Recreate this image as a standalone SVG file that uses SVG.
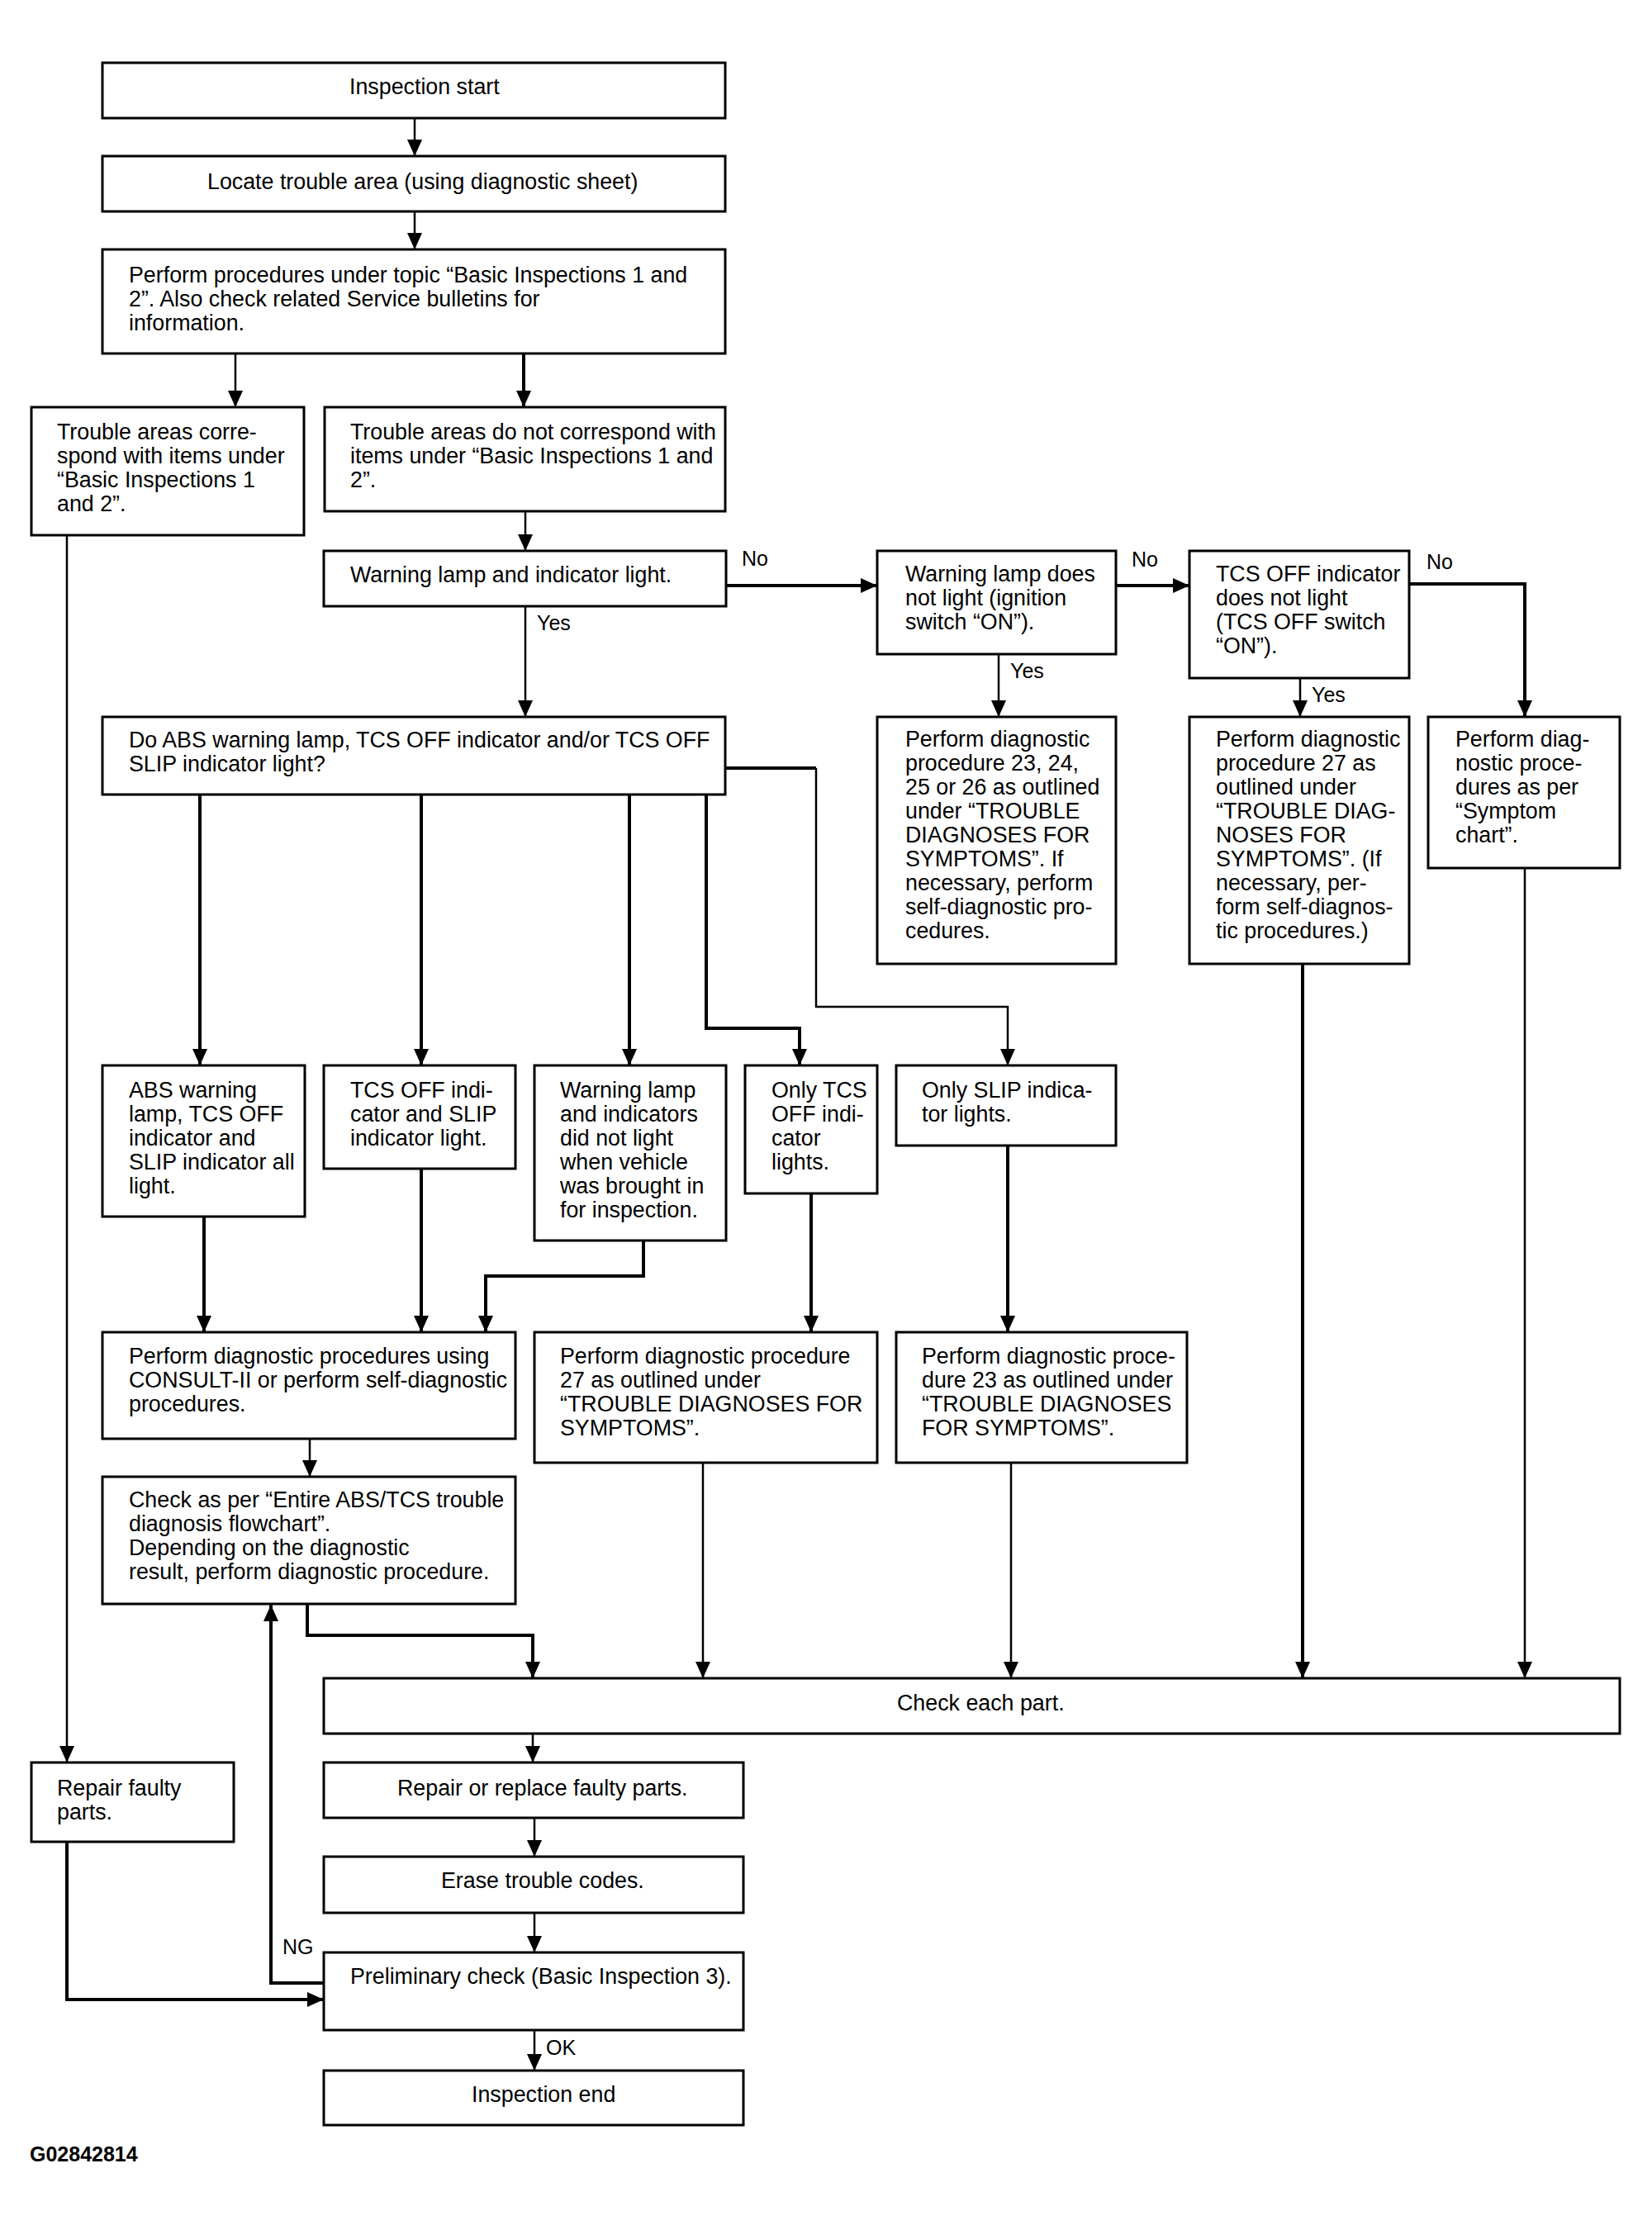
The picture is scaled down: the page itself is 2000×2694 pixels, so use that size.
<svg xmlns="http://www.w3.org/2000/svg" width="2000" height="2694" viewBox="0 0 2000 2694">
<style>
.bg{fill:#fff}
.box{fill:#fff;stroke:#000;stroke-width:3}
.t{font-family:"Liberation Sans",Arial,Helvetica,sans-serif;font-size:26.8px;fill:#000}
.l{font-family:"Liberation Sans",Arial,Helvetica,sans-serif;font-size:25px;fill:#000}
.c{fill:none;stroke:#000;stroke-width:2.5;marker-end:url(#ah)}
.k{stroke-width:4}
.n{marker-end:none}
</style>
<defs>
<marker id="ah" markerUnits="userSpaceOnUse" markerWidth="20" markerHeight="20" viewBox="0 0 20 20" refX="20" refY="10" orient="auto">
<path d="M0,1 L20,10 L0,19 Z" fill="#000"/>
</marker>
</defs>
<rect class="bg" x="0" y="0" width="2000" height="2694"/>

<g id="connectors">
<path class="c" d="M502,143 V189"/>
<path class="c" d="M502,256 V302"/>
<path class="c" d="M285,428 V493"/>
<path class="c k" d="M634,428 V493"/>
<path class="c" d="M81,648 V2134"/>
<path class="c" d="M636,619 V667"/>
<path class="c k" d="M879,709 H1062"/>
<path class="c" d="M636,734 V868"/>
<path class="c k" d="M1351,709 H1440"/>
<path class="c" d="M1209,792 V868"/>
<path class="c k" d="M1706,707 H1846 V868"/>
<path class="c" d="M1574,821 V868"/>
<path class="c k" d="M242,962 V1290"/>
<path class="c k" d="M510,962 V1290"/>
<path class="c k" d="M762,962 V1290"/>
<path class="c k" d="M855,962 V1245 H968 V1290"/>
<path class="c k n" d="M878,930 H988"/>
<path class="c" d="M988,930 V1219 H1220 V1290"/>
<path class="c k" d="M247,1473 V1613"/>
<path class="c k" d="M510,1415 V1613"/>
<path class="c k" d="M779,1502 V1545 H588 V1613"/>
<path class="c k" d="M982,1445 V1613"/>
<path class="c k" d="M1220,1387 V1613"/>
<path class="c" d="M375,1742 V1788"/>
<path class="c k" d="M372,1942 V1980 H645 V2032"/>
<path class="c" d="M851,1771 V2032"/>
<path class="c" d="M1224,1771 V2032"/>
<path class="c k" d="M1577,1167 V2032"/>
<path class="c" d="M1846,1051 V2032"/>
<path class="c" d="M645,2099 V2134"/>
<path class="c" d="M647,2201 V2248"/>
<path class="c" d="M647,2316 V2364"/>
<path class="c" d="M647,2458 V2507"/>
<path class="c k" d="M392,2401 H328 V1943"/>
<path class="c k" d="M81,2230 V2421 H392"/>
<text class="l" x="898" y="685">No</text>
<text class="l" x="650" y="763">Yes</text>
<text class="l" x="1370" y="686">No</text>
<text class="l" x="1223" y="821">Yes</text>
<text class="l" x="1727" y="689">No</text>
<text class="l" x="1588" y="850">Yes</text>
<text class="l" x="342" y="2366">NG</text>
<text class="l" x="661" y="2488">OK</text>
</g>

<g id="n1"><rect class="box" x="124" y="76" width="754" height="67"/>
<text class="t" x="423" y="114">Inspection start</text></g>
<g id="n2"><rect class="box" x="124" y="189" width="754" height="67"/>
<text class="t" x="251" y="229">Locate trouble area (using diagnostic sheet)</text></g>
<g id="n3"><rect class="box" x="124" y="302" width="754" height="126"/>
<text class="t"><tspan x="156" y="342">Perform procedures under topic “Basic Inspections 1 and</tspan><tspan x="156" y="371">2”. Also check related Service bulletins for</tspan><tspan x="156" y="400">information.</tspan></text></g>
<g id="n4"><rect class="box" x="38" y="493" width="330" height="155"/>
<text class="t"><tspan x="69" y="532">Trouble areas corre-</tspan><tspan x="69" y="561">spond with items under</tspan><tspan x="69" y="590">“Basic Inspections 1</tspan><tspan x="69" y="619">and 2”.</tspan></text></g>
<g id="n5"><rect class="box" x="393" y="493" width="485" height="126"/>
<text class="t"><tspan x="424" y="532">Trouble areas do not correspond with</tspan><tspan x="424" y="561">items under “Basic Inspections 1 and</tspan><tspan x="424" y="590">2”.</tspan></text></g>
<g id="n6"><rect class="box" x="392" y="667" width="487" height="67"/>
<text class="t" x="424" y="705">Warning lamp and indicator light.</text></g>
<g id="n7"><rect class="box" x="1062" y="667" width="289" height="125"/>
<text class="t"><tspan x="1096" y="704">Warning lamp does</tspan><tspan x="1096" y="733">not light (ignition</tspan><tspan x="1096" y="762">switch “ON”).</tspan></text></g>
<g id="n8"><rect class="box" x="1440" y="667" width="266" height="154"/>
<text class="t"><tspan x="1472" y="704">TCS OFF indicator</tspan><tspan x="1472" y="733">does not light</tspan><tspan x="1472" y="762">(TCS OFF switch</tspan><tspan x="1472" y="791">“ON”).</tspan></text></g>
<g id="n9"><rect class="box" x="124" y="868" width="754" height="94"/>
<text class="t"><tspan x="156" y="905">Do ABS warning lamp, TCS OFF indicator and/or TCS OFF</tspan><tspan x="156" y="934">SLIP indicator light?</tspan></text></g>
<g id="n10"><rect class="box" x="1062" y="868" width="289" height="299"/>
<text class="t"><tspan x="1096" y="904">Perform diagnostic</tspan><tspan x="1096" y="933">procedure 23, 24,</tspan><tspan x="1096" y="962">25 or 26 as outlined</tspan><tspan x="1096" y="991">under “TROUBLE</tspan><tspan x="1096" y="1020">DIAGNOSES FOR</tspan><tspan x="1096" y="1049">SYMPTOMS”. If</tspan><tspan x="1096" y="1078">necessary, perform</tspan><tspan x="1096" y="1107">self-diagnostic pro-</tspan><tspan x="1096" y="1136">cedures.</tspan></text></g>
<g id="n11"><rect class="box" x="1440" y="868" width="266" height="299"/>
<text class="t"><tspan x="1472" y="904">Perform diagnostic</tspan><tspan x="1472" y="933">procedure 27 as</tspan><tspan x="1472" y="962">outlined under</tspan><tspan x="1472" y="991">“TROUBLE DIAG-</tspan><tspan x="1472" y="1020">NOSES FOR</tspan><tspan x="1472" y="1049">SYMPTOMS”. (If</tspan><tspan x="1472" y="1078">necessary, per-</tspan><tspan x="1472" y="1107">form self-diagnos-</tspan><tspan x="1472" y="1136">tic procedures.)</tspan></text></g>
<g id="n12"><rect class="box" x="1729" y="868" width="232" height="183"/>
<text class="t"><tspan x="1762" y="904">Perform diag-</tspan><tspan x="1762" y="933">nostic proce-</tspan><tspan x="1762" y="962">dures as per</tspan><tspan x="1762" y="991">“Symptom</tspan><tspan x="1762" y="1020">chart”.</tspan></text></g>
<g id="n13"><rect class="box" x="124" y="1290" width="245" height="183"/>
<text class="t"><tspan x="156" y="1329">ABS warning</tspan><tspan x="156" y="1358">lamp, TCS OFF</tspan><tspan x="156" y="1387">indicator and</tspan><tspan x="156" y="1416">SLIP indicator all</tspan><tspan x="156" y="1445">light.</tspan></text></g>
<g id="n14"><rect class="box" x="392" y="1290" width="232" height="125"/>
<text class="t"><tspan x="424" y="1329">TCS OFF indi-</tspan><tspan x="424" y="1358">cator and SLIP</tspan><tspan x="424" y="1387">indicator light.</tspan></text></g>
<g id="n15"><rect class="box" x="647" y="1290" width="232" height="212"/>
<text class="t"><tspan x="678" y="1329">Warning lamp</tspan><tspan x="678" y="1358">and indicators</tspan><tspan x="678" y="1387">did not light</tspan><tspan x="678" y="1416">when vehicle</tspan><tspan x="678" y="1445">was brought in</tspan><tspan x="678" y="1474">for inspection.</tspan></text></g>
<g id="n16"><rect class="box" x="902" y="1290" width="160" height="155"/>
<text class="t"><tspan x="934" y="1329">Only TCS</tspan><tspan x="934" y="1358">OFF indi-</tspan><tspan x="934" y="1387">cator</tspan><tspan x="934" y="1416">lights.</tspan></text></g>
<g id="n17"><rect class="box" x="1085" y="1290" width="266" height="97"/>
<text class="t"><tspan x="1116" y="1329">Only SLIP indica-</tspan><tspan x="1116" y="1358">tor lights.</tspan></text></g>
<g id="n18"><rect class="box" x="124" y="1613" width="500" height="129"/>
<text class="t"><tspan x="156" y="1651">Perform diagnostic procedures using</tspan><tspan x="156" y="1680">CONSULT-II or perform self-diagnostic</tspan><tspan x="156" y="1709">procedures.</tspan></text></g>
<g id="n19"><rect class="box" x="647" y="1613" width="415" height="158"/>
<text class="t"><tspan x="678" y="1651">Perform diagnostic procedure</tspan><tspan x="678" y="1680">27 as outlined under</tspan><tspan x="678" y="1709">“TROUBLE DIAGNOSES FOR</tspan><tspan x="678" y="1738">SYMPTOMS”.</tspan></text></g>
<g id="n20"><rect class="box" x="1085" y="1613" width="352" height="158"/>
<text class="t"><tspan x="1116" y="1651">Perform diagnostic proce-</tspan><tspan x="1116" y="1680">dure 23 as outlined under</tspan><tspan x="1116" y="1709">“TROUBLE DIAGNOSES</tspan><tspan x="1116" y="1738">FOR SYMPTOMS”.</tspan></text></g>
<g id="n21"><rect class="box" x="124" y="1788" width="500" height="154"/>
<text class="t"><tspan x="156" y="1825">Check as per “Entire ABS/TCS trouble</tspan><tspan x="156" y="1854">diagnosis flowchart”.</tspan><tspan x="156" y="1883">Depending on the diagnostic</tspan><tspan x="156" y="1912">result, perform diagnostic procedure.</tspan></text></g>
<g id="n22"><rect class="box" x="392" y="2032" width="1569" height="67"/>
<text class="t" x="1086" y="2071">Check each part.</text></g>
<g id="n23"><rect class="box" x="38" y="2134" width="245" height="96"/>
<text class="t"><tspan x="69" y="2174">Repair faulty</tspan><tspan x="69" y="2203">parts.</tspan></text></g>
<g id="n24"><rect class="box" x="392" y="2134" width="508" height="67"/>
<text class="t" x="481" y="2174">Repair or replace faulty parts.</text></g>
<g id="n25"><rect class="box" x="392" y="2248" width="508" height="68"/>
<text class="t" x="534" y="2286">Erase trouble codes.</text></g>
<g id="n26"><rect class="box" x="392" y="2364" width="508" height="94"/>
<text class="t" x="424" y="2402">Preliminary check (Basic Inspection 3).</text></g>
<g id="n27"><rect class="box" x="392" y="2507" width="508" height="66"/>
<text class="t" x="571" y="2545">Inspection end</text></g>
<text class="l" x="36" y="2617" style="font-weight:bold">G02842814</text>
</svg>
